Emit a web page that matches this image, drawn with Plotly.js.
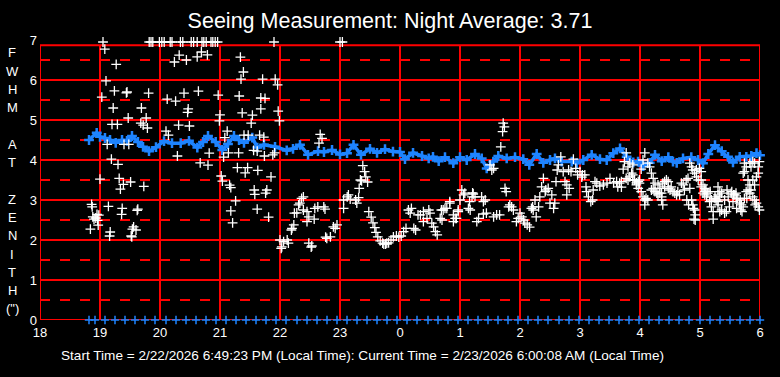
<!DOCTYPE html>
<html><head><meta charset="utf-8">
<script src="https://cdn.plot.ly/plotly-3.0.1.min.js"></script>
<style>html,body{margin:0;padding:0;background:#000;}#chart{width:780px;height:377px;}</style>
</head><body><div id="chart"></div>
<script>
// Hours: 18..30 (24 = midnight, 30 = 6 AM next day)
const xTickVals = [18,19,20,21,22,23,24,25,26,27,28,29,30];
const xTickText = ['18','19','20','21','22','23','0','1','2','3','4','5','6'];
const yTickVals = [0,1,2,3,4,5,6,7];

// Running average (blue)
const avgT = [18.817,18.945,19.0,19.083,19.167,19.262,19.367,19.45,19.533,19.633,19.717,19.817,19.933,20.067,20.2,20.345,20.483,20.622,20.717,20.8,20.928,21.038,21.133,21.233,21.317,21.4,21.538,21.622,21.733,21.917,22.112,22.217,22.333,22.467,22.633,22.733,22.867,23.0,23.117,23.225,23.35,23.5,23.617,23.75,23.883,24.0,24.083,24.217,24.367,24.478,24.55,24.645,24.75,24.888,25.0,25.112,25.25,25.362,25.445,25.555,25.638,25.778,25.917,26.055,26.155,26.278,26.388,26.5,26.583,26.695,26.862,26.945,27.055,27.195,27.333,27.445,27.555,27.667,27.778,27.888,27.967,28.055,28.162,28.25,28.362,28.472,28.55,28.612,28.717,28.855,28.967,29.05,29.138,29.25,29.362,29.467,29.55,29.662,29.772,29.855,29.942,30.0];
const avgV = [4.5,4.68,4.58,4.55,4.5,4.43,4.5,4.48,4.6,4.45,4.33,4.22,4.32,4.47,4.42,4.42,4.48,4.31,4.45,4.6,4.45,4.25,4.4,4.6,4.5,4.43,4.56,4.31,4.38,4.33,4.24,4.28,4.38,4.13,4.22,4.2,4.25,4.14,4.17,4.38,4.13,4.28,4.18,4.27,4.21,4.2,4.02,4.18,4.1,4.04,4.08,3.97,4.07,3.92,4.07,4.0,4.15,4.04,3.79,3.96,4.1,4.04,4.07,4.02,3.88,4.15,3.93,4.0,4.04,3.96,3.96,3.92,4.0,4.13,4.02,4.0,4.17,4.29,4.08,3.94,3.96,3.85,3.93,4.13,3.97,4.07,3.96,3.93,4.04,4.07,4.0,3.92,4.15,4.37,4.22,4.08,3.94,4.08,4.08,4.1,4.17,4.12];

// Individual measurements (white)
const measT = [19.05,19.82,19.85,19.88,19.99,20.03,20.07,20.17,20.2,20.34,20.38,20.52,20.56,20.62,20.7,20.73,20.77,20.85,20.88,20.92,20.96,21.9,23.0,23.04,
18.84,18.86,18.87,18.88,18.9,18.93,18.95,18.96,18.97,18.98,19.0,
19.03,19.08,19.1,19.12,19.14,19.16,19.17,19.19,19.2,19.22,19.24,19.27,19.29,19.3,19.32,19.34,19.36,19.37,19.39,19.4,19.44,19.45,19.47,19.48,19.51,19.52,19.53,19.54,19.56,19.6,19.62,19.63,19.68,19.69,19.72,19.73,19.77,19.79,19.81,
20.1,20.12,20.14,20.24,20.26,20.29,20.31,20.32,20.4,20.44,20.46,20.47,20.49,20.62,20.64,20.67,20.69,20.79,20.8,20.82,20.97,20.99,
21.0,21.02,21.04,21.06,21.08,21.12,21.14,21.16,21.18,21.18,21.21,21.26,21.29,21.31,21.32,21.34,21.35,21.37,21.39,21.4,21.42,21.46,21.47,21.52,21.54,21.56,21.57,21.58,21.62,21.62,21.63,21.66,21.68,21.68,21.71,21.73,21.74,21.75,21.76,21.78,21.81,21.85,21.88,21.91,21.92,21.96,21.97,21.99,
22.0,22.02,22.03,22.06,22.12,22.14,22.19,22.2,22.23,22.24,22.28,22.31,22.33,22.36,22.39,22.39,22.45,22.45,22.48,22.48,22.52,22.53,22.57,22.58,22.63,22.65,22.67,22.7,22.73,22.75,22.76,22.78,22.84,22.89,22.92,22.95,
23.06,23.06,23.12,23.14,23.17,23.26,23.28,23.31,23.32,23.34,23.36,23.38,23.41,23.43,23.46,23.48,23.52,23.55,23.58,23.6,23.63,23.67,23.71,23.73,23.76,23.78,23.81,23.85,23.89,23.94,23.98,
24.02,24.06,24.1,24.14,24.17,24.19,24.23,24.26,24.3,24.34,24.39,24.39,24.45,24.48,24.5,24.53,24.56,24.59,24.62,24.67,24.69,24.7,24.72,24.75,24.78,24.83,24.83,24.89,24.89,24.92,24.94,24.97,24.97,
25.0,25.03,25.06,25.08,25.14,25.16,25.17,25.2,25.21,25.22,25.25,25.28,25.31,25.36,25.39,25.39,25.42,25.44,25.5,25.53,25.56,25.56,25.61,25.66,25.68,25.71,25.72,25.74,25.75,25.77,25.81,25.83,25.86,25.89,25.94,25.97,
26.0,26.03,26.06,26.08,26.12,26.16,26.19,26.21,26.22,26.25,26.27,26.31,26.33,26.36,26.39,26.42,26.43,26.47,26.5,26.53,26.56,26.58,26.6,26.62,26.64,26.68,26.72,26.75,26.78,26.78,26.81,26.82,26.85,26.89,26.93,26.96,27.0,
27.03,27.04,27.08,27.1,27.11,27.14,27.18,27.21,27.22,27.25,27.28,27.33,27.39,27.45,27.5,27.56,27.61,27.63,27.66,27.69,27.69,27.72,27.74,27.77,27.77,27.8,27.8,27.83,27.83,27.86,27.88,27.88,27.88,27.91,27.94,27.94,27.97,27.97,27.99,27.99,
28.02,28.02,28.05,28.05,28.08,28.08,28.08,28.1,28.13,28.13,28.16,28.19,28.19,28.22,28.22,28.25,28.25,28.28,28.3,28.3,28.33,28.33,28.36,28.36,28.38,28.38,28.36,28.41,28.41,28.44,28.47,28.47,28.5,28.52,28.55,28.58,28.61,28.63,28.66,28.69,28.72,28.74,28.77,28.78,28.8,28.81,28.83,28.83,28.86,28.86,28.88,28.88,28.89,28.9,28.91,28.91,28.92,28.92,28.94,28.94,28.97,28.99,
29.02,29.02,29.02,29.05,29.05,29.08,29.08,29.08,29.1,29.11,29.13,29.16,29.17,29.19,29.19,29.22,29.22,29.25,29.25,29.27,29.3,29.3,29.3,29.3,29.33,29.33,29.33,29.36,29.36,29.41,29.41,29.44,29.45,29.47,29.49,29.52,29.53,29.55,29.56,29.58,29.6,29.61,29.61,29.63,29.66,29.67,29.68,29.69,29.7,29.72,29.74,29.77,29.78,29.8,29.83,29.85,29.88,29.91,29.92,29.94,29.97,29.99,
29.72,29.74,29.77,29.74,29.83,29.85,29.88,29.91,29.94,29.88,29.97,29.99,29.97,29.91,29.83,29.8];
const measV = [6.95,6.95,6.95,6.95,6.95,6.95,6.95,6.95,6.95,6.95,6.95,6.95,6.95,6.95,6.95,6.95,6.95,6.95,6.95,6.95,6.95,6.95,6.95,6.95,
2.27,2.89,2.83,2.58,2.52,2.55,2.64,2.49,2.37,2.62,3.52,
5.57,6.77,5.98,4.39,2.84,2.1,2.2,4.02,4.89,5.3,5.73,6.39,4.89,3.89,3.54,3.27,2.64,2.79,3.39,4.39,5.68,5.7,5.05,4.39,3.45,2.1,2.08,2.27,2.33,2.25,2.74,2.77,4.92,5.3,4.87,3.34,5.05,4.8,5.67,
4.72,5.52,4.62,6.45,5.47,4.1,4.87,6.62,5.67,6.5,5.19,5.28,4.85,6.58,5.72,3.93,6.7,6.63,3.87,4.17,5.62,4.98,
5.13,3.6,3.47,4.07,4.56,4.72,4.18,3.37,3.31,2.73,2.43,2.98,3.81,4.18,5.6,6.57,6.02,5.18,6.2,4.62,3.68,3.81,4.62,4.92,5.12,4.24,3.25,3.14,4.22,2.77,3.74,4.62,5.28,5.55,6.02,4.57,4.1,5.54,3.17,3.25,2.57,3.58,4.13,4.18,6.02,5.88,5.22,4.98,
2.0,1.79,1.83,1.96,2.0,1.92,2.25,2.29,2.38,2.67,2.68,2.88,2.92,3.04,3.08,2.75,2.71,2.46,2.58,1.92,1.82,1.85,2.52,2.79,2.83,4.42,4.64,4.54,2.83,2.77,2.07,2.04,2.08,2.33,2.29,2.38,
3.0,2.79,3.08,3.13,3.02,3.0,2.92,3.06,3.29,3.5,3.48,3.86,3.71,3.58,3.45,2.71,2.57,2.43,2.31,2.19,2.08,1.98,1.92,1.9,1.9,1.92,1.93,2.0,2.08,2.1,2.07,
2.1,2.21,2.29,2.75,2.67,2.79,2.29,2.25,2.63,2.63,2.71,2.46,2.54,2.75,2.67,2.42,2.33,2.21,2.13,2.54,2.75,2.5,2.75,2.79,2.79,2.92,2.96,2.63,2.46,2.54,2.54,2.75,2.71,
3.0,3.25,3.13,3.17,2.79,2.96,2.75,3.08,3.18,3.15,3.08,2.46,2.54,3.08,2.96,2.65,3.0,2.67,3.88,3.75,3.79,2.58,2.63,2.63,4.33,4.71,4.92,4.83,3.29,3.21,2.83,2.88,2.83,2.75,2.46,2.54,
2.67,2.58,2.5,2.42,2.38,2.32,2.79,2.83,2.75,3.0,2.58,2.83,3.08,3.33,3.54,3.21,3.25,3.29,2.92,3.13,2.79,2.92,3.46,3.75,3.88,4.08,3.71,3.46,3.38,3.13,3.75,3.29,3.71,4.02,3.79,3.63,3.71,
3.57,3.63,3.63,3.33,3.21,3.08,2.96,3.0,3.25,3.46,3.42,3.35,3.38,3.42,3.54,3.43,3.46,3.33,3.42,3.46,3.32,3.77,3.96,4.18,3.54,3.83,3.5,3.92,3.58,3.67,3.63,3.88,3.5,3.5,3.38,3.43,3.29,3.46,3.42,3.5,
3.21,3.77,3.08,4.0,3.0,2.88,4.18,3.04,3.0,3.92,3.83,3.67,3.25,3.54,3.29,3.42,3.21,3.17,3.38,3.13,3.29,3.17,3.17,3.08,3.42,2.88,3.0,3.46,3.33,3.5,3.46,3.29,3.25,3.33,3.21,3.17,3.13,3.21,3.13,3.42,3.38,3.25,3.5,3.0,3.54,2.88,3.29,3.92,3.83,3.0,3.75,2.88,2.79,2.52,3.67,2.75,2.63,2.5,3.58,3.75,3.5,3.79,
3.71,3.5,3.33,3.38,3.17,3.29,3.13,3.21,3.25,3.08,3.17,2.96,3.21,2.83,3.0,2.71,2.52,3.04,3.08,3.0,2.96,3.33,3.13,2.88,3.21,3.08,2.71,3.17,2.75,3.0,2.67,2.71,3.25,3.08,2.83,3.17,3.21,2.96,3.13,3.13,3.17,3.04,2.79,3.04,2.92,3.0,2.75,2.88,2.71,2.83,3.04,3.21,3.04,3.25,3.17,3.25,3.08,3.0,2.88,2.92,2.83,2.75,
3.67,3.71,3.83,3.92,3.92,3.83,3.96,3.92,3.58,3.5,3.67,3.96,3.83,3.38,3.38,3.5];

// Data-gap markers along the zero line: minutes after 18:00
const zeroMin = [49,55,65,75,85,95,105,115,126,136,146,156,166,176,186,196,206,216,226,236,246,257,267,277,287,297,307,317,327,337,347,357,367,377,388,398,408,418,428,438,448,458,468,478,488,498,508,519,529,539,549,559,569,579,589,599,609,619,629,639,649,660,670,680,690,700,710,720];
const zeroV = zeroMin.map(() => 0);
const zeroT = zeroMin.map(m => 18 + m / 60);

const titleText = 'Seeing Measurement: Night Average: 3.71';
const footerText = 'Start Time = 2/22/2026 6:49:23 PM (Local Time): Current Time = 2/23/2026 6:00:08 AM (Local Time)';
const yLetters = ['F','W','H','M','','A','T','','Z','E','N','I','T','H','(")'];

const RED = '#ff0000';
const BLUE = '#1e84ff';
const FONT = 'Arial, "Liberation Sans", sans-serif';
const X0 = 18, X1 = 30, YTOP = 6.87;

const shapes = [];
for (let h = 19; h <= 29; h++) {
  shapes.push({type:'line', layer:'below', x0:h, x1:h, y0:0, y1:YTOP, line:{color:RED, width:2}});
}
for (let v = 1; v <= 6; v++) {
  shapes.push({type:'line', layer:'below', x0:X0, x1:X1, y0:v, y1:v, line:{color:RED, width:2}});
}
for (let v = 0.5; v < 7; v += 1) {
  shapes.push({type:'line', layer:'below', x0:X0, x1:X1, y0:v, y1:v, line:{color:RED, width:2, dash:'10px,10px'}});
}
shapes.push({type:'rect', layer:'below', x0:X0, x1:X1, y0:0, y1:YTOP, line:{color:RED, width:2}});

// plot area: x 40..760 px, y 40..320 px
const pyToPaper = py => (320 - py) / 280;
const pxToPaper = px => (px - 40) / 720;

const annotations = yLetters.map((ch, i) => ({
  text: ch, showarrow:false, xref:'paper', yref:'paper',
  x: pxToPaper(12.5), y: pyToPaper(52.7 + i * 18.3), xanchor:'center', yanchor:'middle',
  font:{family:FONT, size:13, color:'#ffffff'}
}));
annotations.push({
  text: footerText, showarrow:false, xref:'paper', yref:'paper',
  x: pxToPaper(362), y: pyToPaper(355), xanchor:'center', yanchor:'middle',
  font:{family:FONT, size:13.6, color:'#ffffff'}
});

const traces = [
  {x: avgT, y: avgV, type:'scatter', mode:'lines+markers',
   line:{color:BLUE, width:3.5},
   marker:{symbol:'cross-thin', size:7, line:{color:BLUE, width:2.5}},
   hoverinfo:'skip', cliponaxis:false},
  {x: measT, y: measV, type:'scatter', mode:'markers',
   marker:{symbol:'cross-thin', size:7, line:{color:'#ffffff', width:1.3}},
   hoverinfo:'skip', cliponaxis:false},
  {x: zeroT, y: zeroV, type:'scatter', mode:'markers',
   marker:{symbol:'cross-thin', size:6, line:{color:BLUE, width:1.5}},
   hoverinfo:'skip', cliponaxis:false}
];

const layout = {
  width:780, height:377,
  margin:{l:40, r:20, t:40, b:57, pad:0},
  paper_bgcolor:'#000000', plot_bgcolor:'#000000',
  showlegend:false,
  title:{text:titleText, x:0.5, xanchor:'center', y:0.947, yanchor:'middle', yref:'container',
         font:{family:FONT, size:21.5, color:'#ffffff'}},
  xaxis:{range:[X0, X1], tickvals:xTickVals, ticktext:xTickText, showgrid:false, zeroline:false,
         showline:false, ticks:'', ticklabelstandoff:3, tickfont:{family:FONT, size:13, color:'#ffffff'}, fixedrange:true},
  yaxis:{range:[0, 7], tickvals:yTickVals, showgrid:false, zeroline:false, showline:false,
         ticks:'', ticklabelstandoff:2, tickfont:{family:FONT, size:13, color:'#ffffff'}, fixedrange:true},
  shapes: shapes,
  annotations: annotations
};

Plotly.newPlot('chart', traces, layout, {staticPlot:true, displayModeBar:false});
</script>
</body></html>
